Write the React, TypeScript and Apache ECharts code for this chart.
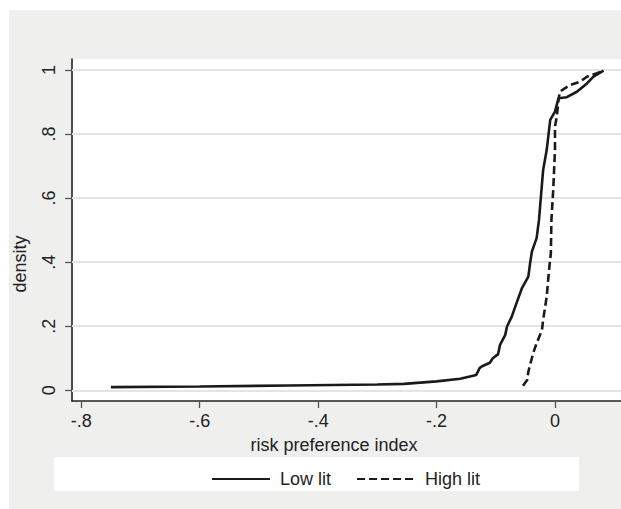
import React, { useEffect, useRef } from "react";
import * as echarts from "echarts";

const xTickValues = [-0.8, -0.6, -0.4, -0.2, 0];
const xTickLabels = ["-.8", "-.6", "-.4", "-.2", "0"];
const yTickValues = [0, 0.2, 0.4, 0.6, 0.8, 1];
const yTickLabels = ["0", ".2", ".4", ".6", ".8", "1"];

const lowLitX = [-0.75, -0.6, -0.45, -0.3, -0.255, -0.2, -0.16, -0.133, -0.127, -0.122, -0.11, -0.105, -0.096, -0.093, -0.084, -0.081, -0.073, -0.065, -0.056, -0.045, -0.042, -0.039, -0.031, -0.027, -0.02, -0.014, -0.008, 0.0, 0.006, 0.02, 0.037, 0.054, 0.065, 0.082];
const lowLitY = [0.01, 0.012, 0.015, 0.018, 0.02, 0.028, 0.036, 0.048, 0.07, 0.076, 0.086, 0.1, 0.113, 0.141, 0.173, 0.199, 0.23, 0.272, 0.318, 0.355, 0.397, 0.433, 0.475, 0.532, 0.688, 0.75, 0.844, 0.87, 0.912, 0.915, 0.932, 0.958, 0.979, 0.998];

const highLitX = [-0.054, -0.047, -0.045, -0.037, -0.031, -0.022, -0.02, -0.014, -0.01, -0.007, -0.006, -0.003, 0.0, 0.0, 0.003, 0.006, 0.008, 0.025, 0.042, 0.054, 0.071, 0.082];
const highLitY = [0.014, 0.032, 0.058, 0.115, 0.147, 0.188, 0.22, 0.292, 0.376, 0.428, 0.532, 0.625, 0.75, 0.823, 0.854, 0.906, 0.932, 0.953, 0.963, 0.979, 0.99, 0.998];

const seriesNames = ["Low lit", "High lit"];

const FONT = "'Liberation Sans', Arial, Helvetica, sans-serif";
const FS = 18;

function fmt(values: number[], labels: string[]) {
  return (v: number) => {
    const i = values.findIndex((t) => Math.abs(t - v) < 1e-9);
    return i >= 0 ? labels[i] : "";
  };
}

export default function App() {
  const ref = useRef<HTMLDivElement>(null);
  useEffect(() => {
    if (!ref.current) return;
    const chart = echarts.init(ref.current, undefined, { renderer: "svg" });
    const lowData = lowLitX.map((x, i) => [x, lowLitY[i]]);
    const highData = highLitX.map((x, i) => [x, highLitY[i]]);
    chart.setOption({
      animation: false,
      backgroundColor: "#ffffff",
      textStyle: { fontFamily: FONT },
      graphic: [
        { type: "rect", z: -10, shape: { x: 9, y: 10, width: 612, height: 499 }, style: { fill: "#eff0ee" } },
        { type: "rect", z: -5, shape: { x: 54, y: 457, width: 525, height: 34 }, style: { fill: "#ffffff" } },
        {
          type: "text", x: 334, y: 445,
          style: { text: "risk preference index", font: `${FS}px ${FONT}`, fill: "#222", textAlign: "center", textVerticalAlign: "middle" },
        },
        {
          type: "text", x: 20, y: 264, rotation: Math.PI / 2,
          style: { text: "density", font: `${FS}px ${FONT}`, fill: "#222", textAlign: "center", textVerticalAlign: "middle" },
        },
      ],
      grid: {
        left: 72, right: 0, top: 59, bottom: 108,
        show: true, backgroundColor: "#ffffff", borderWidth: 0,
      },
      legend: {
        data: seriesNames,
        left: 206, top: 465,
        itemWidth: 58, itemHeight: 18, itemGap: 25,
        itemStyle: { opacity: 0, borderWidth: 0 },
        textStyle: { fontSize: FS, fontFamily: FONT, color: "#222", padding: [0, 0, 0, 5] },
      },
      xAxis: {
        type: "value",
        min: -0.8157, max: 0.1115,
        axisLine: { onZero: false, lineStyle: { color: "#222", width: 1.6 } },
        axisTick: { customValues: xTickValues, length: 7, lineStyle: { color: "#555", width: 1.3 } },
        axisLabel: { customValues: xTickValues, formatter: fmt(xTickValues, xTickLabels), fontSize: FS, fontFamily: FONT, color: "#222", margin: 11 },
        splitLine: { show: false },
      },
      yAxis: {
        type: "value",
        min: -0.0334, max: 1.0343,
        axisLine: { show: true, onZero: false, lineStyle: { color: "#222", width: 1.6 } },
        axisTick: { show: true, customValues: yTickValues, length: 7, lineStyle: { color: "#555", width: 1.3 } },
        axisLabel: { customValues: yTickValues, formatter: fmt(yTickValues, yTickLabels), rotate: 90, fontSize: FS, fontFamily: FONT, color: "#222", margin: 14 },
        splitLine: { show: false },
      },
      series: [
        {
          name: seriesNames[0], type: "line", data: lowData, symbol: "none", showSymbol: false, z: 3,
          lineStyle: { color: "#1a1a1a", width: 2.6, type: "solid" },
          itemStyle: { color: "#1a1a1a" },
          markLine: {
            z: 1, silent: true, symbol: ["none", "none"], label: { show: false },
            lineStyle: { color: "#e4e4e4", width: 1.8, type: "solid" },
            emphasis: { disabled: true },
            data: yTickValues.map((v) => ({ yAxis: v })),
          },
        },
        {
          name: seriesNames[1], type: "line", data: highData, symbol: "none", showSymbol: false, z: 3,
          lineStyle: { color: "#1a1a1a", width: 2.6, type: [8, 4] },
          itemStyle: { color: "#1a1a1a" },
        },
      ],
    });
    return () => chart.dispose();
  }, []);
  return <div ref={ref} style={{ position: "fixed", left: 0, top: 0, width: 621, height: 509 }} />;
}
